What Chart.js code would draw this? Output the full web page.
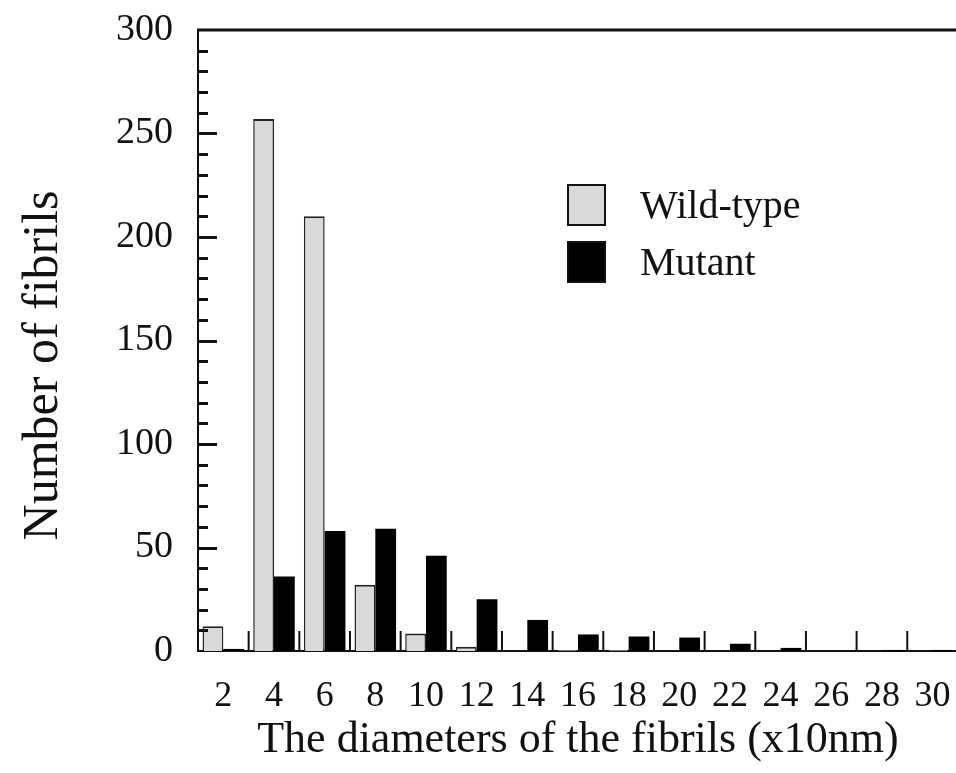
<!DOCTYPE html>
<html>
<head>
<meta charset="utf-8">
<script src="https://cdn.jsdelivr.net/npm/chart.js@4"></script>
<style>
  html, body { margin: 0; padding: 0; background: #fff; overflow: hidden; }
  #wrap { width: 975px; height: 773px; }
</style>
</head>
<body>
<div id="wrap"><canvas id="fibrilChart" width="975" height="773"></canvas></div>
<script>
// Data
const diameters = ['2', '4', '6', '8', '10', '12', '14', '16', '18', '20', '22', '24', '26', '28', '30'];
const wildType = [12, 257, 210, 32, 8.5, 2, 0, 0.5, 0.5, 0, 0, 0, 0, 0, 0];
const mutant = [1, 36, 58, 59, 46, 25, 15, 8, 7, 6.5, 3.5, 1.5, 0, 0.5, 0.5];
const yMax = 300;

const serif = '"Liberation Serif", "Times New Roman", serif';

// Inward ticks, top border and the in-plot legend
const framePlugin = {
    id: 'frame',
    afterDraw(chart) {
        const ctx = chart.ctx;
        const area = chart.chartArea;
        const x = chart.scales.x;
        const y = chart.scales.y;
        ctx.save();
        ctx.strokeStyle = '#111';

        // top border
        ctx.lineWidth = 3;
        ctx.beginPath();
        ctx.moveTo(area.left - 1, area.top);
        ctx.lineTo(area.right, area.top);
        ctx.stroke();

        // y ticks every 10, longer on the 50s
        ctx.lineWidth = 3;
        for (let v = 10; v < yMax; v += 10) {
            const py = Math.round(y.getPixelForValue(v)) + 0.5;
            const len = v % 50 === 0 ? 19 : 10;
            ctx.beginPath();
            ctx.moveTo(area.left, py);
            ctx.lineTo(area.left + len, py);
            ctx.stroke();
        }

        // x ticks between categories
        ctx.lineWidth = 2;
        for (let i = 1; i < diameters.length; i++) {
            const px = (x.getPixelForValue(i - 1) + x.getPixelForValue(i)) / 2;
            ctx.beginPath();
            ctx.moveTo(px, area.bottom);
            ctx.lineTo(px, area.bottom - 20);
            ctx.stroke();
        }

        // legend
        const items = chart.data.datasets;
        const boxX = 568, textX = 640;
        const rows = [205, 262];
        ctx.font = '40px ' + serif;
        ctx.textBaseline = 'middle';
        ctx.textAlign = 'left';
        items.forEach((ds, i) => {
            const cy = rows[i];
            ctx.fillStyle = ds.backgroundColor;
            ctx.fillRect(boxX, cy - 20, 37, 40);
            ctx.lineWidth = 2;
            ctx.strokeStyle = '#111';
            ctx.strokeRect(boxX, cy - 20, 37, 40);
            ctx.fillStyle = '#111';
            ctx.fillText(ds.label, textX, cy + 2);
        });
        ctx.restore();
    }
};

new Chart(document.getElementById('fibrilChart'), {
    type: 'bar',
    data: {
        labels: diameters,
        datasets: [
            {
                label: 'Wild-type',
                data: wildType,
                backgroundColor: '#d9d9d9',
                borderColor: '#222',
                borderWidth: { top: 2, left: 1.5, right: 1.5, bottom: 0 },
                borderSkipped: 'bottom'
            },
            {
                label: 'Mutant',
                data: mutant,
                backgroundColor: '#000',
                borderWidth: 0
            }
        ]
    },
    options: {
        responsive: false,
        animation: false,
        devicePixelRatio: 1,
        layout: {
            padding: { top: 30, right: 12, left: 0, bottom: 0 }
        },
        plugins: {
            legend: { display: false },
            tooltip: { enabled: false }
        },
        datasets: {
            bar: {
                categoryPercentage: 0.82,
                barPercentage: 1.0
            }
        },
        scales: {
            x: {
                afterFit: function (scale) { scale.height = 122; },
                grid: { display: false, drawTicks: false },
                border: { display: true, color: '#111', width: 2 },
                ticks: {
                    color: '#111',
                    padding: 24,
                    maxRotation: 0,
                    autoSkip: false,
                    font: { family: serif, size: 36 }
                },
                title: {
                    display: true,
                    text: 'The diameters of the fibrils (x10nm)',
                    color: '#111',
                    padding: { top: 0, bottom: 6 },
                    font: { family: serif, size: 44 }
                }
            },
            y: {
                min: 0,
                max: yMax,
                afterFit: function (scale) {
                    scale.width = 198;
                    scale.paddingTop = 0;
                },
                grid: { display: false, drawTicks: false },
                border: { display: true, color: '#111', width: 2 },
                ticks: {
                    stepSize: 50,
                    autoSkip: false,
                    color: '#111',
                    padding: 25,
                    font: { family: serif, size: 38 }
                },
                title: {
                    display: true,
                    text: 'Number of fibrils\u00a0\u00a0\u00a0\u00a0',
                    color: '#111',
                    padding: { top: 14, bottom: 0 },
                    font: { family: serif, size: 50 }
                }
            }
        }
    },
    plugins: [framePlugin]
});
</script>
</body>
</html>
